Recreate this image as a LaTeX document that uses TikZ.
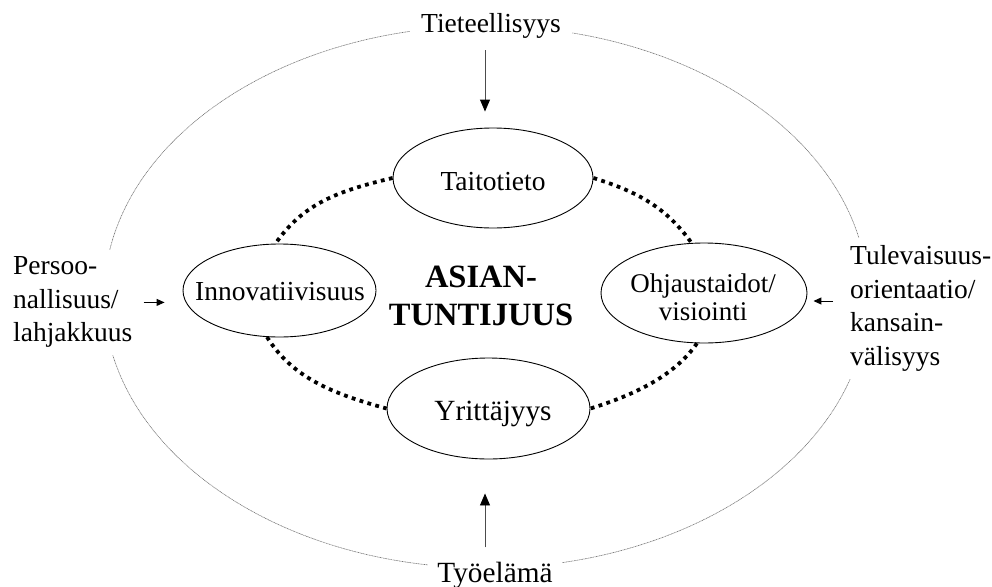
\documentclass[tikz,border=0pt]{standalone}
\usepackage{fontspec}
\setmainfont{Liberation Serif}
\usetikzlibrary{shapes.geometric,arrows.meta,calc}

\begin{document}
\begin{tikzpicture}[x=1pt,y=-1pt,
  txt/.style={font=\fontsize{27.5}{33.5}\selectfont, inner sep=0pt},
  big/.style={font=\fontsize{29.3}{34}\selectfont, inner sep=0pt},
  bubble/.style={ellipse, draw=black, line width=0.9pt, inner sep=0pt},
  rim/.style={draw=black!55, line width=0.6pt, dash pattern=on 1pt off 0.6pt},
  link/.style={draw=black, line width=3.8pt, dash pattern=on 3.8pt off 4.4pt},
  feed/.style={draw=black!70, line width=0.9pt,
    -{Triangle[length=12pt,width=10pt,fill=black,color=black]}},
  nudge/.style={draw=black, line width=1pt, -{Triangle[length=8pt,width=7pt]}},
]
\useasboundingbox (0,0) rectangle (992,586);

% outer frame of influences
\draw[rim] (486,297) ellipse [x radius=382, y radius=271];

% the four competence areas
\node[bubble, minimum width=200pt, minimum height=100pt] (taito) at (493,178) {};
\node[txt, anchor=base] (taitotxt) at (493,190) {Taitotieto};
\node[bubble, minimum width=193pt, minimum height=93pt] (innov) at (279.5,290.5) {};
\node[txt, anchor=base] (innovtxt) at (280,300) {Innovatiivisuus};
\node[bubble, minimum width=206pt, minimum height=100pt] (ohj) at (704,293) {};
\node[txt, align=center, font=\fontsize{27}{28}\selectfont] (ohjtxt) at (703,297.5) {Ohjaustaidot/\\visiointi};
\node[bubble, minimum width=203pt, minimum height=101pt] (yrit) at (488.5,408.5) {};
\node[big, anchor=base] (yrittxt) at (493,420) {Yrittäjyys};

% centre title
\node[font=\bfseries\fontsize{32.5}{38}\selectfont, align=center, inner sep=0pt] (core) at (481,295.5) {ASIAN-\\TUNTIJUUS};

% outer labels, masking the frame behind them
\node[txt, fill=white, inner xsep=11pt, inner ysep=3pt, anchor=base] (tiet) at (491,33) {Tieteellisyys};
\node[big, fill=white, inner xsep=9pt, inner ysep=3pt, anchor=base] (tyo) at (495,582) {Työelämä};
\node[txt, fill=white, align=left, inner xsep=4pt, inner ysep=7pt, anchor=west] (pers) at (9,302.4) {Persoo-\\nallisuus/\\lahjakkuus};
\node[txt, fill=white, align=left, inner xsep=4pt, inner ysep=8pt, anchor=west] (tul) at (846,308.6) {Tulevaisuus-\\orientaatio/\\kansain-\\välisyys};

% dotted ring joining the areas
\draw[link] (taito.west) .. controls +(-55,13) and +(28,-40) .. (innov.95);
\draw[link] (innov.255) .. controls +(25,40) and +(-55,-15) .. (yrit.west);
\draw[link] (taito.east) .. controls +(45,14) and +(-25,-35) .. (ohj.104);
\draw[link] (ohj.262) .. controls +(-22,32) and +(45,-14) .. (yrit.east);

% influence arrows
\draw[feed, shorten <=8pt, shorten >=16pt] ([xshift=-6pt]tiet.south) -- ([xshift=-8pt]taito.north);
\draw[feed, shorten <=11pt, shorten >=34pt] ([xshift=-10pt]tyo.north) -- ([xshift=-3.5pt]yrit.south);
\draw[nudge, shorten <=7pt, shorten >=18pt] (pers.east) -- (pers.east -| innov.west);
\coordinate (tulin) at ($(tul.west)+(0,-7.6)$);
\draw[nudge, shorten <=13pt, shorten >=6pt] (tulin) -- (tulin -| ohj.east);
\end{tikzpicture}
\end{document}
